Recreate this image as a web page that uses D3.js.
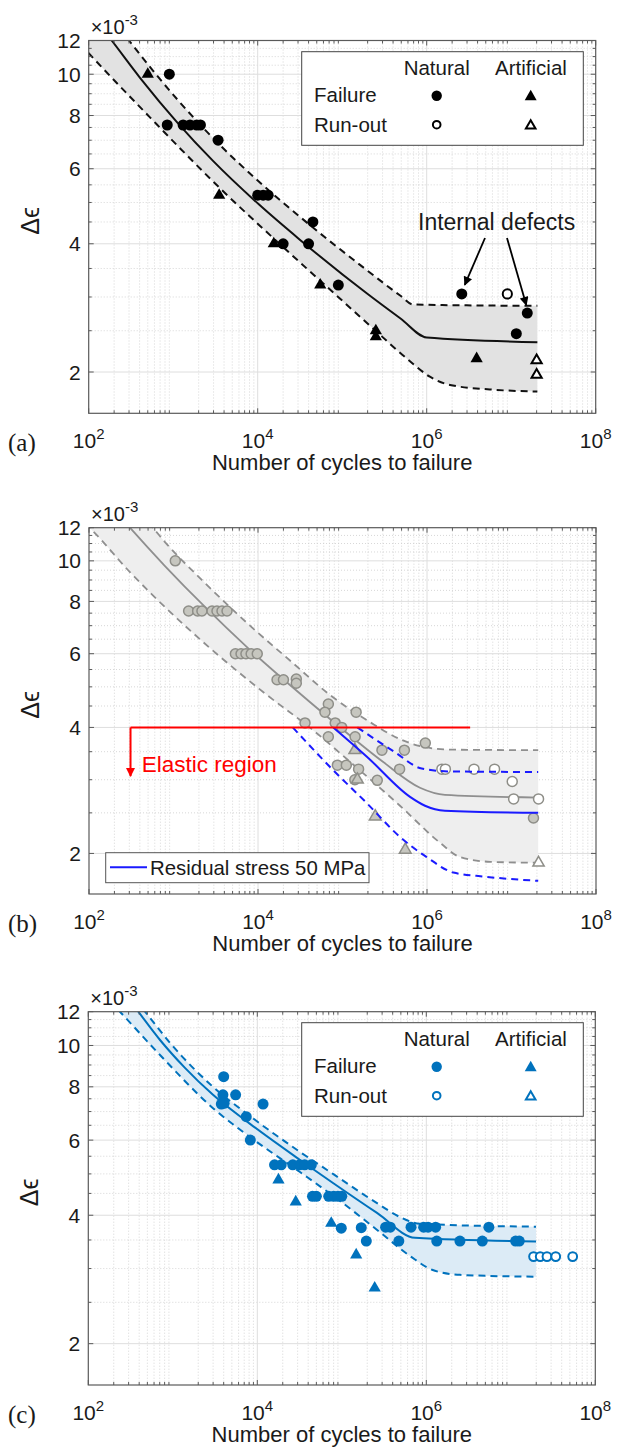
<!DOCTYPE html>
<html>
<head>
<meta charset="utf-8">
<script src="https://cdn.jsdelivr.net/npm/d3@7"></script>
<style>
  body { margin: 0; background: #fff; }
  svg text { font-family: Arial, "Liberation Sans", Helvetica, sans-serif; fill: #1a1a1a; }
</style>
</head>
<body>
<svg id="fig" width="617" height="1449"></svg>
<script>
// ---------------- data (strain range in units of 1e-3, N = cycles) ----------------
const xTickValues = [1e2, 1e4, 1e6, 1e8];
const xTickExponents = ["2", "4", "6", "8"];
const yTickValues = [2, 4, 6, 8, 10, 12];
const yTickLabels = ["2", "4", "6", "8", "10", "12"];
const yMinorValues = [2.5, 3, 3.5, 4.5, 5, 5.5, 6.5, 7, 7.5, 8.5, 9, 9.5, 10.5, 11, 11.5];

// (a) test results
const natFailA = [[900,10.0],[850,7.6],[1310,7.6],[1580,7.6],[1900,7.6],[2100,7.6],[3400,7.0],
  [10000,5.2],[11600,5.2],[13300,5.2],[45000,4.5],[20000,4.0],[40000,4.0],[90000,3.2],
  [2.6e6,3.05],[1.15e7,2.46],[1.55e7,2.75]];
const natRunA = [[9e6,3.05]];
const artFailA = [[500,10.0],[3500,5.2],[15500,4.0],[55000,3.2],[250000,2.5],[250000,2.42],[3.9e6,2.15]];
const artRunA = [[2e7,2.13],[2e7,1.97]];
// (a) fitted curve and scatter band
const meanA = [[136,13.01],[187,12.0],[405,9.81],[1140,7.67],[2960,6.26],[10300,4.95],[31500,4.09],
  [195000,3.06],[490000,2.67],[1e6,2.41],[2.04e7,2.35]];
const upperA = [[234,12.8],[308,11.92],[1140,8.69],[2960,7.08],[10300,5.6],[31500,4.63],[195000,3.47],
  [490000,3.02],[6.9e5,2.88],[2.04e7,2.86]];
const lowerA = [[79,11.78],[100,11.2],[531,7.92],[3580,5.4],[15600,4.11],[54600,3.28],[213000,2.57],
  [634000,2.12],[1.09e6,1.95],[1.89e6,1.865],[5.6e6,1.82],[2.04e7,1.80]];

// (b) literature data
const filledB = [[1050,10],[1510,7.59],[1930,7.59],[2170,7.59],[2860,7.59],[3270,7.59],[3750,7.59],[4300,7.59],
  [5400,6],[6300,6],[7200,6],[8300,6],[9800,6],[16800,5.2],[20000,5.2],[28400,5.22],[28400,5.1],
  [68000,4.55],[62000,4.35],[145000,4.35],[36000,4.1],[82000,4.1],[98000,4.0],[68000,3.8],[141000,3.8],
  [293000,3.53],[540000,3.53],[955000,3.67],[87000,3.25],[111000,3.25],[155000,3.18],[474000,3.18],
  [140000,3.0],[258000,2.99],[1.82e7,2.43]];
const openB = [[1.5e6,3.18],[1.65e6,3.18],[3.6e6,3.18],[6.3e6,3.18],[1.02e7,2.97],[1.06e7,2.70],[2.09e7,2.70]];
const triB = [[140000,3.53],[150000,3.0],[244000,2.45],[553000,2.04]];
const openTriB = [[2.09e7,1.90]];
const meanB = [[220,12.94],[305,12.0],[793,9.72],[2360,7.76],[7620,6.19],[23900,5.05],[71200,4.19],
  [301000,3.31],[826000,2.87],[1.63e6,2.76],[2.07e7,2.72]];
const upperB = [[402,12.94],[587,11.91],[793,11.09],[2360,8.85],[7620,7.07],[23900,5.78],[71200,4.78],
  [211000,4.12],[479000,3.75],[826000,3.61],[1.87e6,3.54],[2.07e7,3.53]];
const lowerB = [[90,12.28],[108,11.85],[305,9.4],[910,7.55],[2700,6.19],[11500,4.86],[44800,3.94],
  [123000,3.31],[479000,2.6],[1.43e6,2.12],[2.46e6,1.96],[5.57e6,1.91],[2.07e7,1.90]];
const blueMean = [[77800,4.0],[193000,3.41],[630000,2.73],[947000,2.6],[1.63e6,2.53],[2.07e7,2.50]];
const blueUpper = [[150000,4.0],[418000,3.49],[865000,3.19],[1.87e6,3.14],[2.07e7,3.13]];
const blueLower = [[25800,4.0],[77800,3.16],[193000,2.64],[479000,2.19],[991000,1.96],[2.05e6,1.80],
  [4.85e6,1.76],[2.07e7,1.72]];
const elasticLimit = 4.0;
const elasticSpan = [310, 3.24e6];
const elasticArrowTo = 3.06;

// (c) results
const filledC = [[4000,8.45],[3920,7.66],[5540,7.66],[3750,7.29],[4050,7.32],[11700,7.29],[7400,6.81],[8270,6.0],
  [16000,5.25],[19200,5.25],[26300,5.25],[31600,5.25],[36300,5.25],[43600,5.25],
  [45000,4.43],[50000,4.43],[70000,4.43],[80000,4.43],[90000,4.43],[100000,4.43],
  [98600,3.73],[170000,3.74],[195000,3.48],[330000,3.75],[375000,3.75],[473000,3.48],
  [6.6e5,3.75],[9.3e5,3.75],[1.05e6,3.75],[1.29e6,3.75],[5.5e6,3.75],
  [1.33e6,3.48],[2.5e6,3.48],[4.6e6,3.48],[1.14e7,3.48],[1.26e7,3.48]];
const triC = [[17800,4.84],[28500,4.30],[75000,3.83],[148000,3.23],[245000,2.70]];
const openC = [[1.86e7,3.2],[2.23e7,3.2],[2.68e7,3.2],[3.4e7,3.2],[5.4e7,3.2]];
const meanC = [[295,12.92],[391,12.0],[706,10.3],[1393,8.86],[2990,7.66],[8200,6.55],[32000,5.39],
  [78700,4.76],[261000,4.05],[735000,3.54],[1.99e7,3.47]];
const upperC = [[357,12.78],[469,12.0],[927,10.14],[2990,8.0],[8200,6.83],[32000,5.63],[78700,5.0],
  [261000,4.27],[489000,3.96],[839000,3.82],[1.99e7,3.76]];
const lowerC = [[181,12.71],[237,12.0],[706,9.5],[2990,7.13],[8200,6.1],[32000,5.05],[95300,4.32],
  [283000,3.65],[641000,3.21],[1.17e6,2.98],[2.5e6,2.9],[1.99e7,2.87]];

// ---------------- layout ----------------
const svg = d3.select("#fig");
const panels = [
  { id: "a", left: 88.7, right: 595.7, top: 40.5, bottom: 413.3 },
  { id: "b", left: 89, right: 596, top: 527.7, bottom: 894 },
  { id: "c", left: 88.3, right: 595.3, top: 1011.7, bottom: 1385 }
];
const gridMajor = "#dedede";
const gridMinor = "#cdcdcd";
const axisColor = "#5a5a5a";

function setupAxes(p) {
  const g = svg.append("g");
  const x = d3.scaleLog().domain([1e2, 1e8]).range([p.left, p.right]);
  const y = d3.scaleLog().domain([1.6, 12]).range([p.bottom, p.top]);
  const xMinor = [];
  for (let d = 2; d < 8; d++) for (let k = 2; k <= 9; k++) xMinor.push(k * Math.pow(10, d));

  // minor grid (dotted)
  g.selectAll(".gx").data(xMinor).join("line")
    .attr("x1", d => x(d)).attr("x2", d => x(d)).attr("y1", p.top).attr("y2", p.bottom)
    .attr("stroke", gridMinor).attr("stroke-width", 0.8).attr("stroke-dasharray", "1,2");
  g.selectAll(".gy").data(yMinorValues).join("line")
    .attr("x1", p.left).attr("x2", p.right).attr("y1", d => y(d)).attr("y2", d => y(d))
    .attr("stroke", gridMinor).attr("stroke-width", 0.8).attr("stroke-dasharray", "1,2");
  // major grid
  g.selectAll(".Gx").data([1e4, 1e6]).join("line")
    .attr("x1", d => x(d)).attr("x2", d => x(d)).attr("y1", p.top).attr("y2", p.bottom)
    .attr("stroke", gridMajor).attr("stroke-width", 1);
  g.selectAll(".Gy").data([2, 4, 6, 8, 10]).join("line")
    .attr("x1", p.left).attr("x2", p.right).attr("y1", d => y(d)).attr("y2", d => y(d))
    .attr("stroke", gridMajor).attr("stroke-width", 1);

  const clipId = "clip" + p.id;
  svg.append("clipPath").attr("id", clipId).append("rect")
    .attr("x", p.left).attr("y", p.top).attr("width", p.right - p.left).attr("height", p.bottom - p.top);
  const plot = svg.append("g").attr("clip-path", `url(#${clipId})`);
  return { x, y, plot, xMinor };
}

function drawFrame(p, s) {
  const { x, y, xMinor } = s;
  const g = svg.append("g");
  // ticks (inward, mirrored)
  xMinor.forEach(v => {
    g.append("line").attr("x1", x(v)).attr("x2", x(v)).attr("y1", p.bottom).attr("y2", p.bottom - 3).attr("stroke", axisColor);
    g.append("line").attr("x1", x(v)).attr("x2", x(v)).attr("y1", p.top).attr("y2", p.top + 3).attr("stroke", axisColor);
  });
  xTickValues.forEach(v => {
    g.append("line").attr("x1", x(v)).attr("x2", x(v)).attr("y1", p.bottom).attr("y2", p.bottom - 5).attr("stroke", axisColor);
    g.append("line").attr("x1", x(v)).attr("x2", x(v)).attr("y1", p.top).attr("y2", p.top + 5).attr("stroke", axisColor);
  });
  yMinorValues.forEach(v => {
    g.append("line").attr("x1", p.left).attr("x2", p.left + 3).attr("y1", y(v)).attr("y2", y(v)).attr("stroke", axisColor);
    g.append("line").attr("x1", p.right).attr("x2", p.right - 3).attr("y1", y(v)).attr("y2", y(v)).attr("stroke", axisColor);
  });
  yTickValues.forEach(v => {
    g.append("line").attr("x1", p.left).attr("x2", p.left + 5).attr("y1", y(v)).attr("y2", y(v)).attr("stroke", axisColor);
    g.append("line").attr("x1", p.right).attr("x2", p.right - 5).attr("y1", y(v)).attr("y2", y(v)).attr("stroke", axisColor);
  });
  g.append("rect").attr("x", p.left).attr("y", p.top).attr("width", p.right - p.left).attr("height", p.bottom - p.top)
    .attr("fill", "none").attr("stroke", axisColor).attr("stroke-width", 1.2);

  // tick labels
  yTickValues.forEach((v, i) => {
    g.append("text").attr("x", p.left - 8).attr("y", y(v) + 7.5).attr("text-anchor", "end")
      .attr("font-size", 21).text(yTickLabels[i]);
  });
  xTickValues.forEach((v, i) => {
    const t = g.append("text").attr("x", x(v)).attr("y", p.bottom + 35).attr("text-anchor", "middle").attr("font-size", 21);
    t.append("tspan").text("10");
    t.append("tspan").attr("dy", -9).attr("font-size", 15).text(xTickExponents[i]);
  });
  // exponent multiplier
  const m = g.append("text").attr("x", p.left + 2).attr("y", p.top - 7).attr("font-size", 20);
  m.append("tspan").text("×10");
  m.append("tspan").attr("dy", -9).attr("font-size", 15).text("-3");
  // axis titles
  g.append("text").attr("x", (p.left + p.right) / 2).attr("y", p.bottom + 57).attr("text-anchor", "middle")
    .attr("font-size", 22).text("Number of cycles to failure");
  g.append("text").attr("transform", `translate(${p.left - 50},${(p.top + p.bottom) / 2 - 6}) rotate(-90)`)
    .attr("text-anchor", "middle").attr("font-size", 25).text("Δϵ");
  g.append("text").attr("x", 8).attr("y", p.bottom + 38).attr("font-size", 25)
    .style("font-family", "'Liberation Serif', 'DejaVu Serif', serif").text(`(${p.id})`);
}

function curvePath(s, pts) {
  return d3.line().x(d => s.x(d[0])).y(d => s.y(d[1])).curve(d3.curveMonotoneX)(pts);
}
function bandPath(s, up, low) {
  const a = curvePath(s, up);
  const b = curvePath(s, low.slice().reverse());
  return a + "L" + b.slice(1) + "Z";
}
function circles(g, s, data, r, fill, stroke, sw) {
  g.selectAll(null).data(data).join("circle")
    .attr("cx", d => s.x(d[0])).attr("cy", d => s.y(d[1])).attr("r", r)
    .attr("fill", fill).attr("stroke", stroke).attr("stroke-width", sw);
}
function triangles(g, s, data, size, fill, stroke, sw) {
  g.selectAll(null).data(data).join("path")
    .attr("d", d3.symbol(d3.symbolTriangle, size))
    .attr("transform", d => `translate(${s.x(d[0])},${s.y(d[1])})`)
    .attr("fill", fill).attr("stroke", stroke).attr("stroke-width", sw);
}
function legendBox(top, color) {
  const g = svg.append("g");
  g.append("rect").attr("x", 301.7).attr("y", top).attr("width", 281.6).attr("height", 93.6)
    .attr("fill", "#fff").attr("stroke", "#444").attr("stroke-width", 1);
  g.append("text").attr("x", 436.7).attr("y", top + 23.5).attr("text-anchor", "middle").attr("font-size", 20.5).text("Natural");
  g.append("text").attr("x", 531).attr("y", top + 23.5).attr("text-anchor", "middle").attr("font-size", 20.5).text("Artificial");
  g.append("text").attr("x", 314).attr("y", top + 50).attr("font-size", 20.5).text("Failure");
  g.append("text").attr("x", 314).attr("y", top + 80).attr("font-size", 20.5).text("Run-out");
  g.append("circle").attr("cx", 436.7).attr("cy", top + 44).attr("r", 5.2).attr("fill", color);
  g.append("circle").attr("cx", 436.7).attr("cy", top + 73).attr("r", 3.8).attr("fill", "#fff").attr("stroke", color).attr("stroke-width", 2);
  g.append("path").attr("d", d3.symbol(d3.symbolTriangle, 62)).attr("transform", `translate(530.7,${top + 45})`).attr("fill", color);
  g.append("path").attr("d", d3.symbol(d3.symbolTriangle, 40)).attr("transform", `translate(530.7,${top + 74})`)
    .attr("fill", "#fff").attr("stroke", color).attr("stroke-width", 2);
}

// ---------------- panel (a) ----------------
{
  const p = panels[0];
  const s = setupAxes(p);
  const g = s.plot;
  g.append("path").attr("d", bandPath(s, upperA, lowerA)).attr("fill", "#e2e2e2");
  g.append("path").attr("d", curvePath(s, upperA)).attr("fill", "none").attr("stroke", "#111").attr("stroke-width", 2).attr("stroke-dasharray", "7,5");
  g.append("path").attr("d", curvePath(s, lowerA)).attr("fill", "none").attr("stroke", "#111").attr("stroke-width", 2).attr("stroke-dasharray", "7,5");
  g.append("path").attr("d", curvePath(s, meanA)).attr("fill", "none").attr("stroke", "#111").attr("stroke-width", 2);
  circles(g, s, natFailA, 5.5, "#000", "none", 0);
  circles(g, s, natRunA, 4.6, "#fff", "#000", 2);
  triangles(g, s, artFailA, 65, "#000", "none", 0);
  triangles(g, s, artRunA, 45, "#fff", "#000", 2);
  drawFrame(p, s);
  legendBox(51.7, "#000");
  // annotation
  svg.append("text").attr("x", 418).attr("y", 230).attr("font-size", 23).text("Internal defects");
  const defs = svg.append("defs");
  defs.append("marker").attr("id", "ahk").attr("viewBox", "0 0 10 10").attr("refX", 9).attr("refY", 5)
    .attr("markerWidth", 10).attr("markerHeight", 9).attr("markerUnits", "userSpaceOnUse").attr("orient", "auto")
    .append("path").attr("d", "M0,0 L10,5 L0,10 Z").attr("fill", "#000");
  const tgt1 = [2.6e6, 3.05], tgt2 = [1.55e7, 2.75];
  svg.append("line").attr("x1", 485).attr("y1", 238).attr("x2", s.x(tgt1[0]) + 3).attr("y2", s.y(tgt1[1]) - 9)
    .attr("stroke", "#000").attr("stroke-width", 1.8).attr("marker-end", "url(#ahk)");
  svg.append("line").attr("x1", 507).attr("y1", 238).attr("x2", s.x(tgt2[0]) - 1).attr("y2", s.y(tgt2[1]) - 8)
    .attr("stroke", "#000").attr("stroke-width", 1.8).attr("marker-end", "url(#ahk)");
}

// ---------------- panel (b) ----------------
{
  const p = panels[1];
  const s = setupAxes(p);
  const g = s.plot;
  g.append("path").attr("d", bandPath(s, upperB, lowerB)).attr("fill", "#eeeeee");
  const gray = "#8f8f8f";
  g.append("path").attr("d", curvePath(s, upperB)).attr("fill", "none").attr("stroke", gray).attr("stroke-width", 1.8).attr("stroke-dasharray", "7,5");
  g.append("path").attr("d", curvePath(s, lowerB)).attr("fill", "none").attr("stroke", gray).attr("stroke-width", 1.8).attr("stroke-dasharray", "7,5");
  g.append("path").attr("d", curvePath(s, meanB)).attr("fill", "none").attr("stroke", gray).attr("stroke-width", 1.8);
  circles(g, s, filledB, 5, "#c6c6bf", "#8e8e88", 1.5);
  circles(g, s, openB, 5, "#fff", "#8e8e88", 1.5);
  triangles(g, s, triB, 60, "#c6c6bf", "#8e8e88", 1.5);
  triangles(g, s, openTriB, 55, "#fff", "#8e8e88", 1.5);
  const blue = "#1a1aff";
  g.append("path").attr("d", curvePath(s, blueUpper)).attr("fill", "none").attr("stroke", blue).attr("stroke-width", 2).attr("stroke-dasharray", "7,5");
  g.append("path").attr("d", curvePath(s, blueLower)).attr("fill", "none").attr("stroke", blue).attr("stroke-width", 2).attr("stroke-dasharray", "7,5");
  g.append("path").attr("d", curvePath(s, blueMean)).attr("fill", "none").attr("stroke", blue).attr("stroke-width", 2);
  // elastic limit line and arrow
  const red = "#ff0000";
  svg.append("defs").append("marker").attr("id", "ahr").attr("viewBox", "0 0 10 10").attr("refX", 9).attr("refY", 5)
    .attr("markerWidth", 12).attr("markerHeight", 9).attr("markerUnits", "userSpaceOnUse").attr("orient", "auto")
    .append("path").attr("d", "M0,0 L10,5 L0,10 Z").attr("fill", red);
  svg.append("line").attr("x1", s.x(elasticSpan[0])).attr("x2", s.x(elasticSpan[1]))
    .attr("y1", s.y(elasticLimit)).attr("y2", s.y(elasticLimit)).attr("stroke", red).attr("stroke-width", 2);
  svg.append("line").attr("x1", s.x(elasticSpan[0])).attr("x2", s.x(elasticSpan[0]))
    .attr("y1", s.y(elasticLimit)).attr("y2", s.y(elasticArrowTo)).attr("stroke", red).attr("stroke-width", 2).attr("marker-end", "url(#ahr)");
  svg.append("text").attr("x", 141.7).attr("y", 772).attr("font-size", 22.5).style("fill", red).text("Elastic region");
  drawFrame(p, s);
  // legend
  const lg = svg.append("g");
  lg.append("rect").attr("x", 105.7).attr("y", 852.7).attr("width", 263.3).attr("height", 30).attr("fill", "#fff").attr("stroke", "#555");
  lg.append("line").attr("x1", 110).attr("x2", 147).attr("y1", 867.3).attr("y2", 867.3).attr("stroke", blue).attr("stroke-width", 2);
  lg.append("text").attr("x", 150).attr("y", 875).attr("font-size", 20.4).text("Residual stress 50 MPa");
}

// ---------------- panel (c) ----------------
{
  const p = panels[2];
  const s = setupAxes(p);
  const g = s.plot;
  const blue = "#0072bd";
  g.append("path").attr("d", bandPath(s, upperC, lowerC)).attr("fill", "#dcebf6");
  g.append("path").attr("d", curvePath(s, upperC)).attr("fill", "none").attr("stroke", blue).attr("stroke-width", 2).attr("stroke-dasharray", "7,5");
  g.append("path").attr("d", curvePath(s, lowerC)).attr("fill", "none").attr("stroke", blue).attr("stroke-width", 2).attr("stroke-dasharray", "7,5");
  g.append("path").attr("d", curvePath(s, meanC)).attr("fill", "none").attr("stroke", blue).attr("stroke-width", 2);
  circles(g, s, filledC, 5.5, blue, "none", 0);
  circles(g, s, openC, 4.4, "#fff", blue, 2);
  triangles(g, s, triC, 65, blue, "none", 0);
  drawFrame(p, s);
  legendBox(1022.7, blue);
}
</script>
</body>
</html>
